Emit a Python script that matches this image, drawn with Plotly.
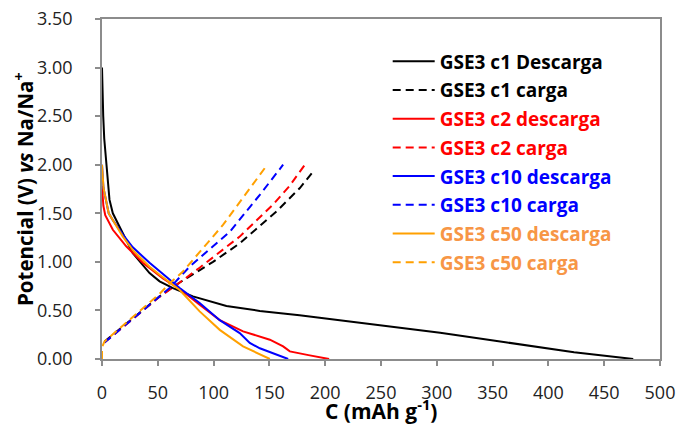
import plotly.graph_objects as go

# ---- data (capacity mAh/g, potential V) ----
c1_des_x = [0, 0.3, 1.1, 2.0, 3.8, 5.0, 6.7, 9.7, 15.7, 27.6, 42.6, 51.6, 63.6, 81.5, 111.5, 141.4, 177, 213, 260, 303, 363, 423, 476]
c1_des_v = [3.0, 2.79, 2.5, 2.27, 2.0, 1.80, 1.64, 1.50, 1.36, 1.09, 0.885, 0.80, 0.73, 0.645, 0.545, 0.495, 0.45, 0.40, 0.335, 0.27, 0.17, 0.07, 0.0]

c1_car_x = [2.2, 27.6, 51.6, 70, 99.5, 123.4, 156.4, 177.3, 189.2]
c1_car_v = [0.18, 0.42, 0.645, 0.79, 1.0, 1.19, 1.52, 1.76, 1.93]

c2_des_x = [0, 0.4, 1.2, 2.9, 9.7, 21.7, 36.6, 54.6, 69.6, 87.5, 105.5, 126.4, 150.4, 162.3, 168.3, 185, 203.5]
c2_des_v = [1.78, 1.68, 1.58, 1.48, 1.33, 1.16, 0.99, 0.83, 0.72, 0.56, 0.40, 0.284, 0.199, 0.13, 0.078, 0.04, 0.0]

c2_car_x = [2.2, 27.6, 51.6, 70, 87.5, 123.4, 153.3, 168, 181.8]
c2_car_v = [0.17, 0.41, 0.64, 0.79, 0.94, 1.26, 1.59, 1.78, 2.0]

c10_des_x = [0, 1.3, 6, 9.7, 18.7, 27.6, 42.6, 60.6, 69.6, 87.5, 105.5, 123.4, 128, 132.4, 141.4, 166.8]
c10_des_v = [2.0, 1.76, 1.50, 1.43, 1.28, 1.15, 0.99, 0.82, 0.73, 0.576, 0.40, 0.267, 0.22, 0.165, 0.11, 0.0]

c10_car_x = [2.2, 27.6, 51.6, 60.6, 78.5, 114.5, 141.4, 162.3]
c10_car_v = [0.17, 0.41, 0.64, 0.73, 0.95, 1.31, 1.69, 2.0]

c50_des_x = [0, 1.35, 6, 9.7, 18.7, 27.6, 42.6, 51.6, 69.6, 87.5, 105.5, 126.4, 150.4]
c50_des_v = [2.0, 1.76, 1.50, 1.43, 1.26, 1.12, 0.95, 0.867, 0.71, 0.49, 0.30, 0.13, 0.0]

c50_car_x = [0, 0, 2.2, 27.6, 51.6, 60.6, 72.5, 108.4, 126.4, 145.9]
c50_car_v = [0.0, 0.12, 0.18, 0.43, 0.67, 0.78, 0.90, 1.38, 1.66, 1.965]

names = ["GSE3 c1 Descarga", "GSE3 c1 carga", "GSE3 c2 descarga", "GSE3 c2 carga",
         "GSE3 c10 descarga", "GSE3 c10 carga", "GSE3 c50 descarga", "GSE3 c50 carga"]

x_ticks = list(range(0, 501, 50))
y_ticks = [0.0, 0.5, 1.0, 1.5, 2.0, 2.5, 3.0, 3.5]

x_title = "<b>C (mAh g<sup>-1</sup>)</b>"
y_title = "<b>Potencial (V) <i>vs</i> Na/Na<sup>+</sup></b>"

series = [
    (c1_des_x, c1_des_v, "#000000", "#000000", "solid"),
    (c1_car_x, c1_car_v, "#000000", "#000000", "8px,5px"),
    (c2_des_x, c2_des_v, "#FF0000", "#FF0000", "solid"),
    (c2_car_x, c2_car_v, "#FF0000", "#FF0000", "8px,5px"),
    (c10_des_x, c10_des_v, "#0000FF", "#0000FF", "solid"),
    (c10_car_x, c10_car_v, "#0000FF", "#0000FF", "8px,5px"),
    (c50_des_x, c50_des_v, "#FFA000", "#F79646", "solid"),
    (c50_car_x, c50_car_v, "#FFA000", "#F79646", "8px,5px"),
]

FONT = "Open Sans"

fig = go.Figure()
for name, (xs, vs, lc, tc, dash) in zip(names, series):
    fig.add_trace(go.Scatter(
        x=xs, y=vs, mode="lines",
        name=f'<span style="color:{tc}">{name}</span>',
        line=dict(color=lc, width=2, dash=dash),
        legendgroup=name,
    ))

axis_common = dict(
    showline=True, mirror=True, linecolor="#8C8C8C", linewidth=1.5,
    ticks="outside", ticklen=5, tickcolor="#8C8C8C", tickwidth=1.5,
    showgrid=False, zeroline=False, automargin=False,
    tickfont=dict(family=FONT, size=18, color="#222222"),
)

fig.update_xaxes(range=[0, 500], tickvals=x_ticks, ticklabelstandoff=12, **axis_common)
fig.update_yaxes(range=[0, 3.5], tickvals=y_ticks, tickformat=".2f", ticklabelstandoff=19,
                 **axis_common)

fig.add_annotation(
    text=x_title, showarrow=False,
    xref="paper", yref="paper", x=0.5, y=0, xanchor="center", yanchor="middle",
    yshift=-50, font=dict(family=FONT, size=21, color="#000000"),
)
fig.add_annotation(
    text=y_title, textangle=-90, showarrow=False,
    xref="paper", yref="paper", x=0, y=0.5, xanchor="center", yanchor="middle",
    xshift=-78, yshift=0, font=dict(family=FONT, size=20.5, color="#000000"),
)

fig.update_layout(
    width=681, height=425,
    margin=dict(l=102, r=21, t=19, b=66),
    paper_bgcolor="white", plot_bgcolor="white",
    font=dict(family=FONT, size=18),
    legend=dict(
        x=0.512, y=0.931, xanchor="left", yanchor="top",
        font=dict(family=FONT, size=19, weight="bold"),
        bgcolor="rgba(0,0,0,0)", tracegroupgap=1, itemwidth=42,
    ),
)

fig.write_html("out.html", config={"displayModeBar": False},
               post_script="document.body.style.margin='0';")
